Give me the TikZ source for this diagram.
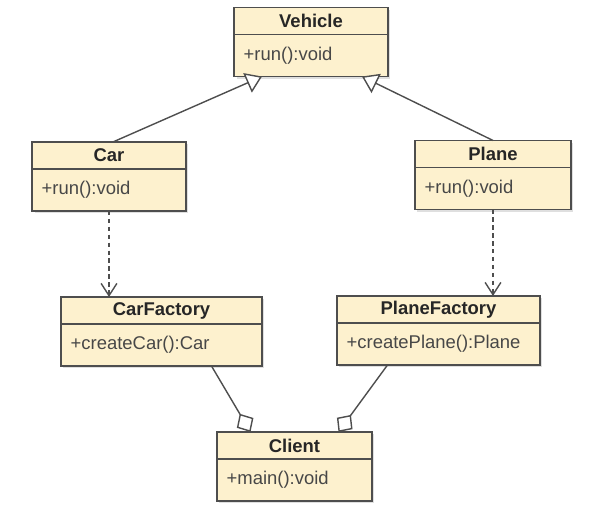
\documentclass[tikz,border=0pt]{standalone}
\usepackage{fontspec}
\setmainfont{Liberation Sans}
\usepackage{xcolor}
\usetikzlibrary{positioning}
\usetikzlibrary{arrows.meta}
\usetikzlibrary{calc}
\usetikzlibrary{shadows}

\definecolor{classFill}{RGB}{253,241,206}
\definecolor{classLine}{RGB}{78,78,78}

\begin{document}
\begin{tikzpicture}[x=0.02cm, y=-0.02cm, font=\fontsize{10.5}{12}\selectfont]

\useasboundingbox (0,0) rectangle (613,520);

\tikzset
  {
    classShadow/.style= {drop shadow={shadow xshift=1.4pt, shadow yshift=-1.4pt, opacity=0.25}},
    classHead/.style=   {classShadow, draw=classLine, fill=classFill, line width=0.85pt,
                         minimum height=15.4pt, inner sep=0pt, outer sep=0pt,
                         font=\fontsize{10.5}{12}\selectfont\bfseries, text=black!85},
    classBody/.style=   {classShadow, draw=classLine, fill=classFill, line width=0.85pt,
                         minimum height=23.9pt, inner xsep=5.5pt, inner ysep=0pt, outer sep=0pt,
                         align=left, text=black!72},
    inherits/.style=    {classLine, line width=0.8pt, -{Triangle[length=9pt, width=12pt, fill=white]}},
    dependsOn/.style=   {classLine, line width=0.8pt, dash pattern=on 2.5pt off 2pt, -{Straight Barb[length=7pt, width=9pt]}},
    aggregates/.style=  {classLine, line width=0.8pt, -{Diamond[length=12pt, width=11pt, fill=white]}}
  }

% classes
{
\node[classHead, minimum width=87.6pt] (vehicle) at (311,21) {Vehicle};
\node[classBody, text width=76.6pt, below=0pt of vehicle] (vehicleOps) {+run():void};

\node[classHead, minimum width=87.6pt] (car) at (109,155.5) {Car};
\node[classBody, text width=76.6pt, below=0pt of car] (carOps) {+run():void};

\node[classHead, minimum width=88.8pt] (plane) at (493,154) {Plane};
\node[classBody, text width=77.8pt, below=0pt of plane] (planeOps) {+run():void};

\node[classHead, minimum width=114.4pt] (carFactory) at (161.5,310.5) {CarFactory};
\node[classBody, text width=103.4pt, below=0pt of carFactory] (carFactoryOps) {+createCar():Car};

\node[classHead, minimum width=115.5pt] (planeFactory) at (438.5,309.5) {PlaneFactory};
\node[classBody, text width=104.5pt, below=0pt of planeFactory] (planeFactoryOps) {+createPlane():Plane};

\node[classHead, minimum width=88.2pt] (client) at (294.5,445.5) {Client};
\node[classBody, text width=77.2pt, below=0pt of client] (clientOps) {+main():void};
}

% connectors
{
\draw[inherits] ($(car.north)+(4,0)$) -- ($(vehicleOps.south)+(-49,0)$);
\draw[inherits] (plane.north) -- ($(vehicleOps.south)+(51,0)$);

\draw[dependsOn] (carOps.south) -- (carOps.south |- carFactory.north);
\draw[dependsOn] (planeOps.south) -- (planeOps.south |- planeFactory.north);

\draw[aggregates] ($(carFactoryOps.south)+(50,0)$) -- ($(client.north)+(-44,0)$);
\draw[aggregates] ($(planeFactoryOps.south)+(-51,0)$) -- ($(client.north)+(44,0)$);
}

\end{tikzpicture}
\end{document}
